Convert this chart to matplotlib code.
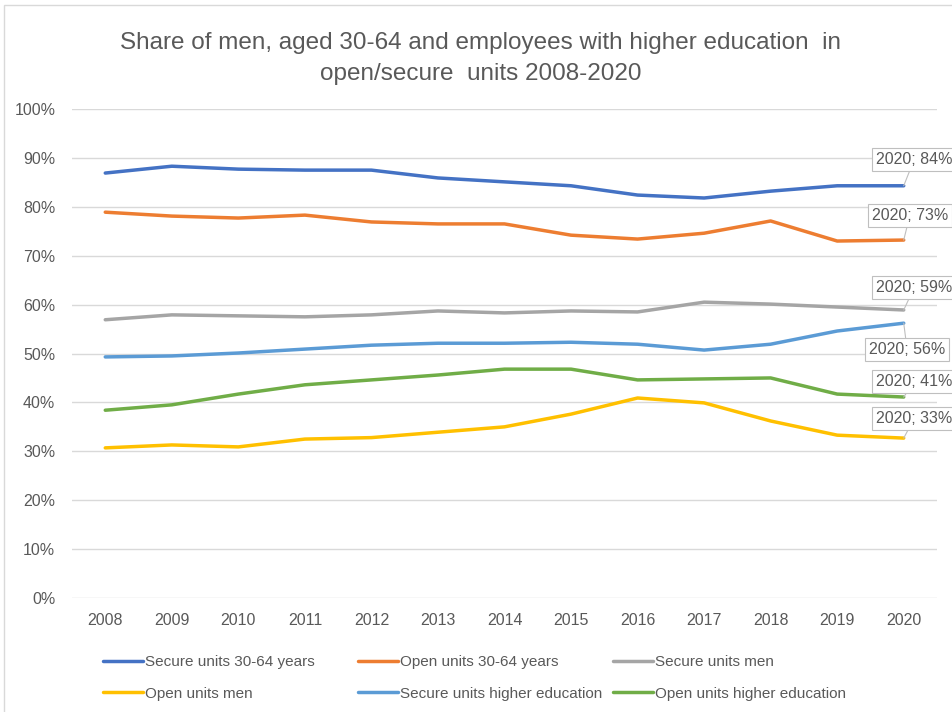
import numpy as np
import matplotlib
matplotlib.use("Agg")
import matplotlib.pyplot as plt
from matplotlib.patches import Rectangle
from matplotlib.ticker import PercentFormatter

plt.rcParams['font.family'] = ['Liberation Sans', 'DejaVu Sans']

# Data (percent)
years = [2008, 2009, 2010, 2011, 2012, 2013, 2014, 2015, 2016, 2017, 2018, 2019, 2020]
secure_30_64 = [86.9, 88.3, 87.7, 87.5, 87.5, 85.9, 85.1, 84.3, 82.4, 81.8, 83.2, 84.3, 84.3]
open_30_64 = [78.9, 78.1, 77.7, 78.3, 76.9, 76.5, 76.5, 74.2, 73.4, 74.6, 77.1, 73.0, 73.2]
secure_men = [56.9, 57.9, 57.7, 57.5, 57.9, 58.7, 58.3, 58.7, 58.5, 60.5, 60.1, 59.5, 58.9]
open_men = [30.7, 31.3, 30.9, 32.5, 32.8, 33.9, 35.0, 37.6, 40.9, 39.9, 36.2, 33.3, 32.7]
secure_higher_ed = [49.3, 49.5, 50.1, 50.9, 51.7, 52.1, 52.1, 52.3, 51.9, 50.7, 51.9, 54.6, 56.2]
open_higher_ed = [38.4, 39.5, 41.7, 43.6, 44.6, 45.6, 46.8, 46.8, 44.6, 44.8, 45.0, 41.7, 41.1]

series_names = ["Secure units 30-64 years", "Open units 30-64 years", "Secure units men",
                "Open units men", "Secure units higher education", "Open units higher education"]
series_values = [secure_30_64, open_30_64, secure_men, open_men, secure_higher_ed, open_higher_ed]
colors = ["#4472C4", "#ED7D31", "#A5A5A5", "#FFC000", "#5B9BD5", "#70AD47"]
end_labels = ["2020; 84%", "2020; 73%", "2020; 59%", "2020; 33%", "2020; 56%", "2020; 41%"]
# label offsets in points (dx, dy) from the last point
label_offsets = [(-20, 19), (-23, 18), (-20, 16), (-20, 14), (-25, -19), (-20, 11)]

text_color = "#595959"
grid_color = "#D9D9D9"

fig = plt.figure(figsize=(9.52, 7.12), dpi=100)
ax = fig.add_axes([72 / 952, 1 - 598 / 712, 865 / 952, 489 / 712])

x = np.arange(len(years))
lines = []
for name, vals, c in zip(series_names, series_values, colors):
    ln, = ax.plot(x, vals, color=c, lw=2.5, solid_capstyle='round', label=name, zorder=3)
    lines.append(ln)

for vals, lab, (dx, dy) in zip(series_values, end_labels, label_offsets):
    ax.annotate(lab, xy=(x[-1], vals[-1]), xytext=(dx, dy), textcoords='offset points',
                ha='left', va='center', fontsize=11.5, color=text_color, zorder=5,
                annotation_clip=False,
                bbox=dict(boxstyle='square,pad=0.25', fc='white', ec='#BFBFBF', lw=0.8),
                arrowprops=dict(arrowstyle='-', color='#BFBFBF', lw=0.8, shrinkA=0, shrinkB=0))

ax.set_xlim(-0.5, len(years) - 0.5)
ax.set_ylim(0, 100)
ax.set_yticks(np.arange(0, 101, 10))
ax.yaxis.set_major_formatter(PercentFormatter(decimals=0))
ax.set_xticks(x)
ax.set_xticklabels([str(y) for y in years])
ax.grid(axis='y', color=grid_color, lw=1)
ax.set_axisbelow(True)
for s in ax.spines.values():
    s.set_visible(False)
ax.tick_params(length=0, labelsize=11.5, labelcolor=text_color)
ax.tick_params(axis='x', pad=11)
ax.tick_params(axis='y', pad=12)

fig.text(0.505, 1 - 43 / 712, "Share of men, aged 30-64 and employees with higher education  in",
         ha='center', va='center', fontsize=17.5, color=text_color)
fig.text(0.505, 1 - 74 / 712, "open/secure  units 2008-2020",
         ha='center', va='center', fontsize=17.5, color=text_color)

# legend: three columns placed like the reference, two rows each
col_x = [103, 358, 613]
for j, cx in enumerate(col_x):
    idx = [j, j + 3]
    fig.legend([lines[i] for i in idx], [series_names[i] for i in idx],
               ncol=1, loc='upper left', bbox_to_anchor=(cx / 952, 1 - 655 / 712),
               frameon=False, fontsize=11, labelcolor=text_color, handlelength=2.6,
               handletextpad=0.15, labelspacing=1.15, borderaxespad=0, borderpad=0)

fig.add_artist(Rectangle((4 / 952, -0.1), 1.2, 1 - 5 / 712 + 0.1, transform=fig.transFigure,
                         fill=False, ec='#D9D9D9', lw=1))

fig.savefig("out.png", dpi=100)
